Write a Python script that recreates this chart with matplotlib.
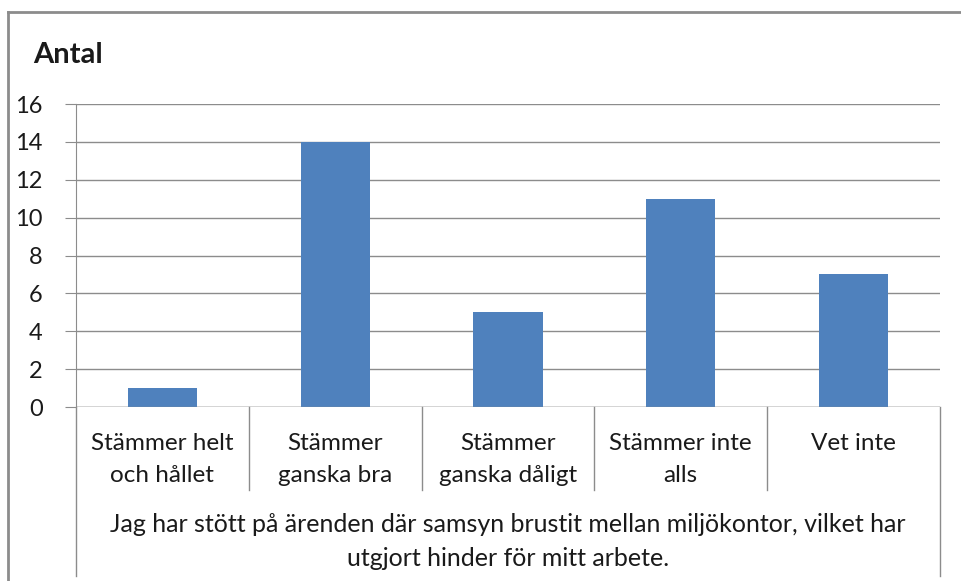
import matplotlib.pyplot as plt
from matplotlib.lines import Line2D

# data
categories = ["Stämmer helt\noch hållet", "Stämmer\nganska bra", "Stämmer\nganska dåligt",
              "Stämmer inte\nalls", "Vet inte"]
values = [1, 14, 5, 11, 7]
group_label = "Jag har stött på ärenden där samsyn brustit mellan miljökontor, vilket har\nutgjort hinder för mitt arbete."
title = "Antal"

W, H = 961, 581
FONT = ["Lato", "DejaVu Sans"]
GRID = "#8c8c8c"
BAR = "#4f81bd"
TXT = "#1a1a1a"

fig = plt.figure(figsize=(W / 100, H / 100), dpi=100)
fig.patch.set_facecolor("white")

# plot area in pixel coords
x0, x1, ytop, y0 = 76, 940, 104, 407
ax = fig.add_axes([x0 / W, 1 - y0 / H, (x1 - x0) / W, (y0 - ytop) / H])

x = list(range(len(values)))
ax.bar(x, values, width=0.4, color=BAR, zorder=3)
ax.set_xlim(-0.5, len(values) - 0.5)
ax.set_ylim(0, 16)
ax.set_yticks(range(0, 17, 2))
ax.yaxis.grid(True, color=GRID, linewidth=1)
ax.set_axisbelow(True)
for s in ["top", "right", "bottom"]:
    ax.spines[s].set_visible(False)
ax.spines["left"].set_color(GRID)
ax.tick_params(axis="y", length=8, color=GRID, pad=16, labelsize=17)
ax.tick_params(axis="x", bottom=False, labelbottom=False)
for lbl in ax.get_yticklabels():
    lbl.set_family(FONT)
    lbl.set_color(TXT)

ph = y0 - ytop
trans = ax.get_xaxis_transform()
# bottom axis line
ax.axhline(0, color=GRID, linewidth=1, zorder=4)

# category dividers
for i in range(len(values) + 1):
    xb = i - 0.5
    bottom = -(576 - y0) / ph if i in (0, len(values)) else -(490 - y0) / ph
    ax.plot([xb, xb], [0, bottom], transform=trans, color=GRID,
            linewidth=1, clip_on=False)

# category labels
for i, c in enumerate(categories):
    ax.text(i, -(433 - y0) / ph, c, transform=trans, ha="center", va="top",
            fontsize=17.5, family=FONT, color=TXT, linespacing=1.65)

# group label
ax.text((len(values) - 1) / 2, -(513 - y0) / ph, group_label, transform=trans,
        ha="center", va="top", fontsize=18, family=FONT, color=TXT,
        linespacing=1.6)

# title
fig.text(33 / W, 1 - 55 / H, title, ha="left", va="center", fontsize=21,
         fontweight="bold", family=FONT, color=TXT)

# chart frame
fig.add_artist(Line2D([7.5 / W, 1], [1 - 11.5 / H] * 2, transform=fig.transFigure,
                      color=GRID, linewidth=2))
fig.add_artist(Line2D([7.5 / W] * 2, [1 - 11.5 / H, 0], transform=fig.transFigure,
                      color=GRID, linewidth=2))

fig.savefig("out.png", dpi=100)
